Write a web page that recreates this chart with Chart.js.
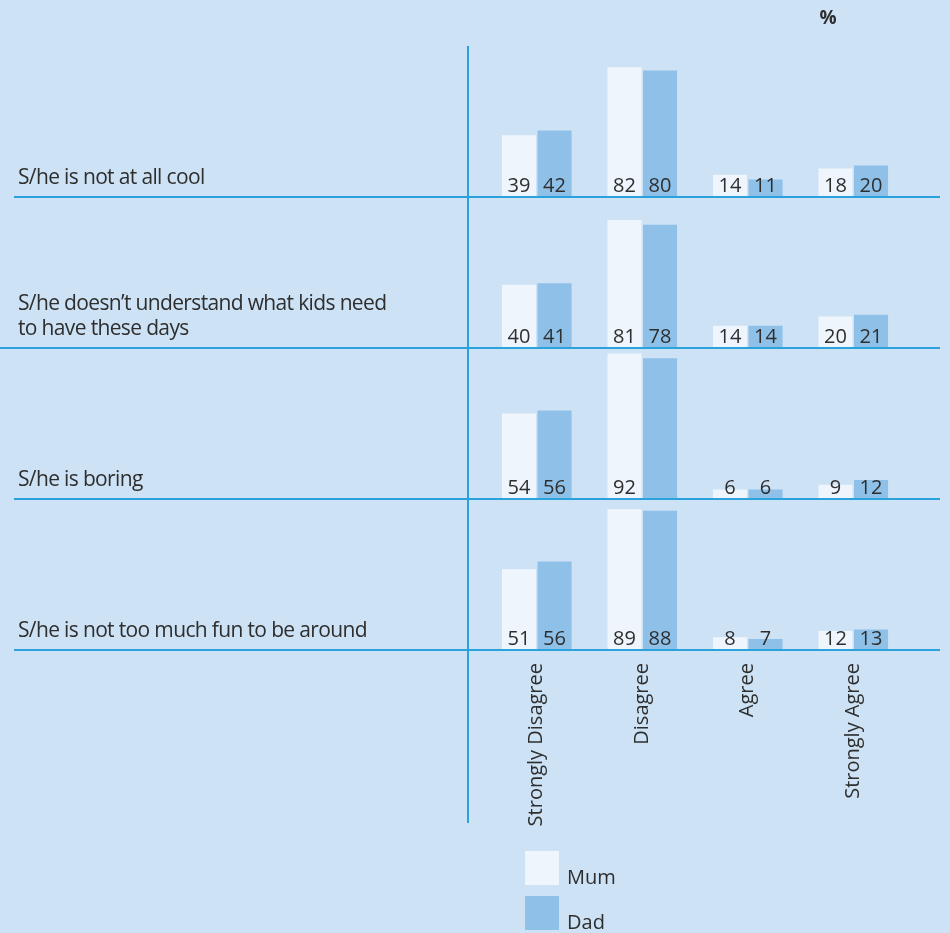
<!DOCTYPE html>
<html>
<head>
<meta charset="utf-8">
<script src="https://cdn.jsdelivr.net/npm/chart.js@4/dist/chart.umd.min.js"></script>
<style>
  html, body { margin: 0; padding: 0; background: #cde2f5; }
  canvas { display: block; }
</style>
</head>
<body>
<canvas id="parentChart" width="950" height="933"></canvas>
<script>
const categories = ["Strongly Disagree", "Disagree", "Agree", "Strongly Agree"];
const statements = [
  ["S/he is not at all cool"],
  ["S/he doesn\u2019t understand what kids need", "to have these days"],
  ["S/he is boring"],
  ["S/he is not too much fun to be around"],
];
const mumValues = [
  [39, 82, 14, 18],
  [40, 81, 14, 20],
  [54, 92, 6, 9],
  [51, 89, 8, 12],
];
const dadValues = [
  [42, 80, 11, 20],
  [41, 78, 14, 21],
  [56, 89, 6, 12],
  [56, 88, 7, 13],
];
// the Dad / Disagree bar for "boring" has no figure printed on it
const unlabelled = ["Dad-2-1"];
const seriesNames = ["Mum", "Dad"];

const MUM_COLOR = "#eff5fc";
const DAD_COLOR = "#8ec0e8";
const LINE_COLOR = "#2ba2dc";
const TEXT_COLOR = "#2e2e2e";
const FONT = "'Open Sans', sans-serif";

// every row gets its own y axis; each axis spans the whole plot (headroom
// for the "%" plus four rows) so the row's zero lands on its own baseline
const ROW_RANGE = 95.5;
const HEADROOM = ROW_RANGE * 46 / 151;
const rowScales = {};
statements.forEach((s, r) => {
  rowScales["row" + r] = {
    type: "linear",
    display: false,
    stacked: false,
    min: -(statements.length - 1 - r) * ROW_RANGE,
    max: (r + 1) * ROW_RANGE + HEADROOM,
  };
});

const datasets = [];
statements.forEach((s, r) => {
  datasets.push({
    label: "Mum",
    data: mumValues[r],
    yAxisID: "row" + r,
    stack: "Mum",
    backgroundColor: MUM_COLOR,
    row: r,
  });
  datasets.push({
    label: "Dad",
    data: dadValues[r],
    yAxisID: "row" + r,
    stack: "Dad",
    backgroundColor: DAD_COLOR,
    row: r,
  });
});

const rowBase = (chart, r) => chart.scales["row" + r].getPixelForValue(0);

const decorations = {
  id: "decorations",
  afterDatasetsDraw(chart) {
    const ctx = chart.ctx;
    const area = chart.chartArea;
    ctx.save();

    // figures sit at the foot of each bar
    ctx.font = "20px " + FONT;
    ctx.fillStyle = TEXT_COLOR;
    ctx.textAlign = "center";
    ctx.textBaseline = "alphabetic";
    chart.data.datasets.forEach((ds, i) => {
      const meta = chart.getDatasetMeta(i);
      meta.data.forEach((bar, j) => {
        if (unlabelled.includes(ds.label + "-" + ds.row + "-" + j)) return;
        ctx.fillText(String(ds.data[j]), bar.x, bar.base - 5);
      });
    });

    // row baselines and the divider
    ctx.strokeStyle = LINE_COLOR;
    ctx.lineWidth = 2;
    statements.forEach((s, r) => {
      const y = Math.round(rowBase(chart, r));
      ctx.beginPath();
      ctx.moveTo(r === 1 ? 0 : 14, y);
      ctx.lineTo(940, y);
      ctx.stroke();
    });
    ctx.beginPath();
    ctx.moveTo(468, rowBase(chart, 0) - 151);
    ctx.lineTo(468, 823);
    ctx.stroke();
    ctx.restore();
  },
  afterDraw(chart) {
    const ctx = chart.ctx;
    const x = chart.scales.x;
    const last = rowBase(chart, statements.length - 1);
    ctx.save();
    ctx.fillStyle = TEXT_COLOR;
    ctx.textBaseline = "alphabetic";

    // statement text, last line 13px above the row's baseline
    ctx.font = "21px " + FONT;
    ctx.letterSpacing = "-0.65px";
    ctx.textAlign = "left";
    statements.forEach((lines, r) => {
      const base = rowBase(chart, r);
      lines.forEach((line, k) => {
        ctx.fillText(line, 18, base - 13 - (lines.length - 1 - k) * 25);
      });
    });
    ctx.letterSpacing = "0px";

    // category names, reading upwards, hanging just under the last row
    ctx.font = "20px " + FONT;
    ctx.textAlign = "right";
    categories.forEach((name, j) => {
      ctx.save();
      ctx.translate(x.getPixelForValue(j) + 5.5, last + 13);
      ctx.rotate(-Math.PI / 2);
      ctx.fillText(name, 0, 0);
      ctx.restore();
    });

    ctx.font = "bold 19px " + FONT;
    ctx.textAlign = "center";
    ctx.fillText("%", 828, 24);

    // legend
    ctx.font = "20px " + FONT;
    ctx.textAlign = "left";
    seriesNames.forEach((name, k) => {
      const top = 851 + k * 45;
      ctx.fillStyle = k === 0 ? MUM_COLOR : DAD_COLOR;
      ctx.fillRect(525, top, 34, 34);
      ctx.fillStyle = TEXT_COLOR;
      ctx.fillText(name, 567, top + 33);
    });
    ctx.restore();
  },
};

const chart = new Chart(document.getElementById("parentChart").getContext("2d"), {
  type: "bar",
  data: {
    labels: categories,
    datasets: datasets,
  },
  options: {
    responsive: false,
    animation: false,
    events: [],
    categoryPercentage: 0.674,
    barPercentage: 0.958,
    layout: {
      padding: { left: 484, right: 44, top: 0, bottom: 283 },
    },
    plugins: {
      legend: { display: false },
      tooltip: { enabled: false },
    },
    scales: Object.assign({
      x: { display: false },
    }, rowScales),
  },
  plugins: [decorations],
});
</script>
</body>
</html>
